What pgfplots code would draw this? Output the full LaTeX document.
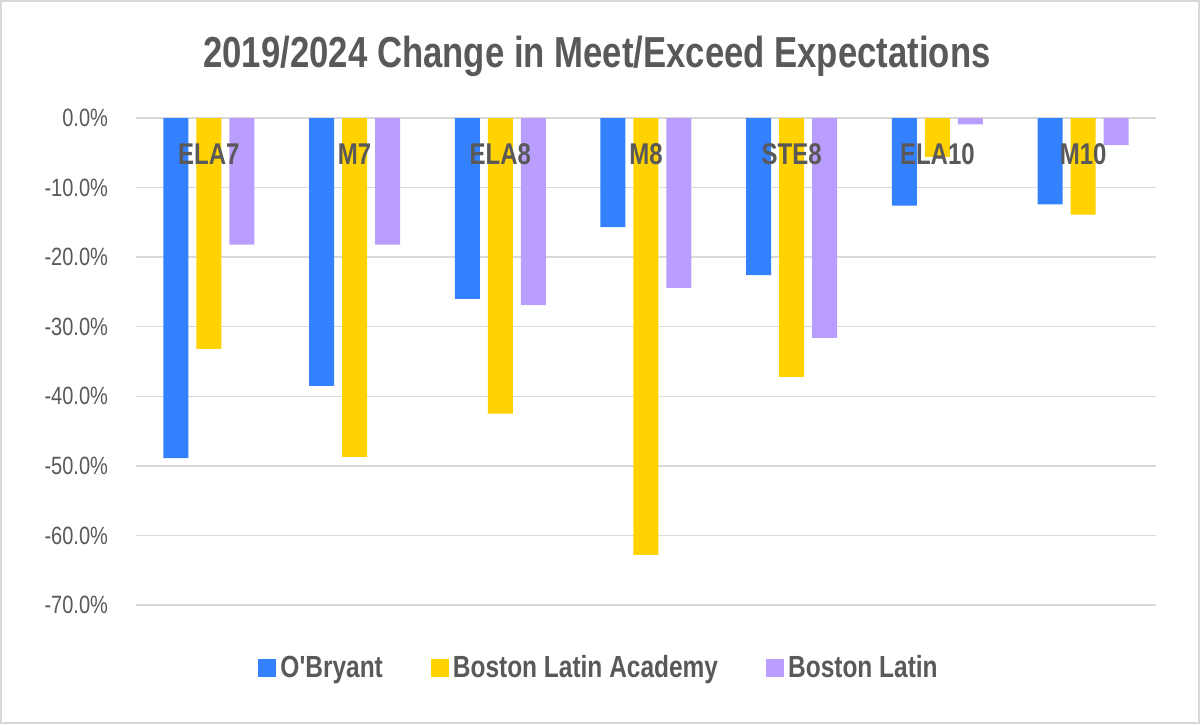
\documentclass[border=0pt]{standalone}
\usepackage{pgfplots}
\pgfplotsset{compat=1.18}
\usepackage{fontspec}
\setmainfont{Liberation Sans}[FakeStretch=0.8, Ligatures=TeXOff]
\definecolor{cOB}{RGB}{51,129,255}
\definecolor{cBLA}{RGB}{255,210,0}
\definecolor{cBL}{RGB}{186,158,255}
\definecolor{txt}{RGB}{89,89,89}
\definecolor{grd}{RGB}{217,217,217}
\begin{document}
\begin{tikzpicture}
\draw[grd, line width=1pt] (-67.5pt,-59pt) rectangle (531.5pt,302pt);
\begin{axis}[
  at={(0,0)}, anchor=south west,
  scale only axis, width=510pt, height=243.5pt,
  ybar=4pt, bar width=12.5pt,
  xmin=-0.5, xmax=6.5, ymin=-70, ymax=0,
  xtick={0,...,6}, xticklabels={},
  ytick={-70,-60,...,0},
  ymajorgrids, grid style={grd, line width=0.75pt},
  axis line style={draw=none}, tick style={draw=none},
  /pgf/number format/assume math mode=true,
  yticklabel={\pgfmathprintnumber[fixed,fixed zerofill,precision=1]{\tick}\%},
  yticklabel style={font=\fontsize{12.5}{15}\selectfont, text=txt, xshift=-10.5pt},
  legend columns=3,
  legend style={draw=none, fill=none, font=\bfseries\fontsize{15.3}{17}\selectfont, text=txt,
    at={(0.455,-0.13)}, anchor=center, /tikz/every even column/.append style={column sep=22pt}},
  legend image code/.code={\fill[#1] (0pt,-4.5pt) rectangle (9pt,4.5pt);},
]
\addplot[fill=cOB, draw=none] coordinates {(0,-48.9) (1,-38.5) (2,-26.0) (3,-15.7) (4,-22.6) (5,-12.6) (6,-12.4)};
\addplot[fill=cBLA, draw=none] coordinates {(0,-33.2) (1,-48.7) (2,-42.5) (3,-62.8) (4,-37.2) (5,-5.6) (6,-13.9)};
\addplot[fill=cBL, draw=none] coordinates {(0,-18.2) (1,-18.2) (2,-26.9) (3,-24.4) (4,-31.6) (5,-0.9) (6,-3.9)};
\legend{O'Bryant, Boston Latin Academy, Boston Latin}
\begin{scope}[every node/.style={anchor=base, text=txt, font=\bfseries\fontsize{15}{17}\selectfont, yshift=-23pt}]
\node at (axis cs:0,0) {ELA7};
\node at (axis cs:1,0) {M7};
\node at (axis cs:2,0) {ELA8};
\node at (axis cs:3,0) {M8};
\node at (axis cs:4,0) {STE8};
\node at (axis cs:5,0) {ELA10};
\node at (axis cs:6,0) {M10};
\end{scope}
\end{axis}
\node[text=txt, font=\bfseries\fontsize{21.7}{24}\selectfont] at (230.5pt,274.5pt) {2019/2024 Change in Meet/Exceed Expectations};
\end{tikzpicture}
\end{document}
